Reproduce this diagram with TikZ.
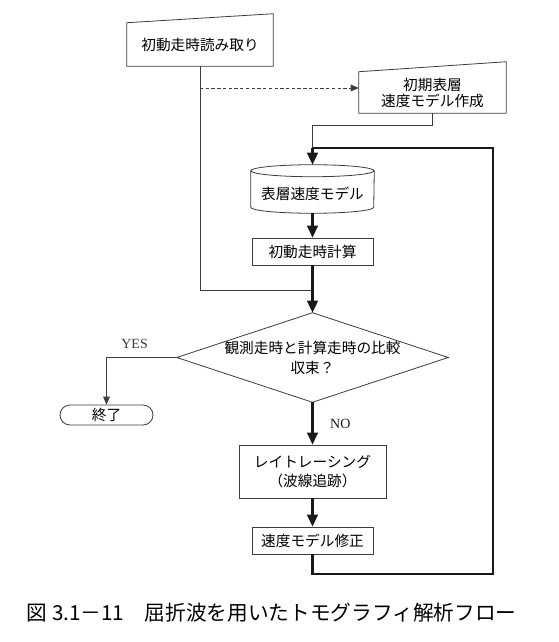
\documentclass[tikz,border=0pt]{standalone}
\usepackage{fontspec}
\setmainfont{Noto Sans CJK JP}
\newfontfamily\latinserif{Liberation Serif}
\usetikzlibrary{arrows.meta, calc}
\definecolor{mydark}{RGB}{25,25,25}
\definecolor{mygray}{RGB}{60,60,60}
\newdimen\pxu \pxu=0.75pt
\tikzset{
  procbox/.style={rectangle, draw=mygray, line width=0.6pt, inner sep=0pt,
    align=center, font=\fontsize{11}{12}\selectfont},
  shapebox/.style={rectangle, inner sep=0pt, align=center,
    font=\fontsize{11}{12}\selectfont},
  outline/.style={draw=mygray, line width=0.6pt},
  thinline/.style={color=mygray, line width=0.6pt},
  thickline/.style={color=mydark, line width=1.8pt},
  thickarrow/.style={-{Triangle[length=9pt, width=8pt]}, color=mydark, line width=1.8pt},
  thinarrow/.style={-{Triangle[length=6pt, width=5pt]}, color=mygray, line width=0.6pt},
  dasharrow/.style={thinarrow, dash pattern=on 2.5pt off 1.8pt},
  yesno/.style={font=\latinserif\fontsize{10.5}{12}\selectfont}
}
\begin{document}
\begin{tikzpicture}[x=0.75pt, y=0.75pt]
  \useasboundingbox (0,0) rectangle (559,-642);

  % Manual input: first-arrival reading
  \node[shapebox, minimum width=146\pxu, minimum height=43\pxu] (read) at (200,-44.5) {初動走時読み取り};
  \draw[outline] (read.south west) -- (read.south east) -- ($(read.north east)+(0,9)$) -- (read.north west) -- cycle;

  % Manual input: initial velocity model
  \node[shapebox, minimum width=147\pxu, minimum height=41\pxu] (init) at (432.5,-92.5) {初期表層\\速度モデル作成};
  \draw[outline] (init.south west) -- (init.south east) -- ($(init.north east)+(0,10)$) -- (init.north west) -- cycle;

  % Stored model (cylinder)
  \node[shapebox, minimum width=123\pxu, minimum height=48\pxu, text height=17pt, text depth=2pt] (model) at (312.5,-189) {表層速度モデル};
  \draw[outline] ($(model.north west)+(0,-6)$) -- ($(model.south west)+(0,6)$)
    arc[start angle=180, end angle=360, x radius=61.5, y radius=6] -- ($(model.north east)+(0,-6)$);
  \draw[outline] ($(model.north)+(0,-6)$) ellipse[x radius=61.5, y radius=6];

  % Process boxes
  \node[procbox, minimum width=121\pxu, minimum height=27\pxu] (calc) at (312.5,-251.5) {初動走時計算};
  \node[procbox, minimum width=147\pxu, minimum height=53\pxu, font=\fontsize{11}{14}\selectfont] (ray) at (312.5,-471.5) {レイトレーシング\\（波線追跡）};
  \node[procbox, minimum width=121\pxu, minimum height=27\pxu] (fix) at (312.5,-540.5) {速度モデル修正};

  % Decision
  \node[shapebox, minimum width=271\pxu, minimum height=89\pxu, font=\fontsize{11}{15}\selectfont] (judge) at (312.5,-357.5) {観測走時と計算走時の比較\\収束？};
  \draw[outline] (judge.north) -- (judge.east) -- (judge.south) -- (judge.west) -- cycle;

  % Terminal
  \node[procbox, minimum width=93\pxu, minimum height=20\pxu, rounded corners=7.5pt] (end) at (106.5,-415) {終了};

  % Junction points
  \coordinate (join) at (312.5,-290);
  \coordinate (merge) at (312.5,-148);
  \coordinate (loop) at (493,-574);
  \coordinate (dashstart) at (200,-88);

  % Connectors
  \draw[thinline] (read.south) |- (join);
  \draw[dasharrow] (dashstart) -- (dashstart -| init.west);
  \draw[thinline] (init.south) -- ++(0,-12) -| (merge);
  \draw[thickarrow] (merge) -- (model.north);
  \draw[thickarrow] (model.south) -- (calc.north);
  \draw[thickarrow] (calc.south) -- (judge.north);
  \draw[thinarrow] (judge.west) -| node[pos=0.3, above=3pt, yesno] {YES} (end.north);
  \draw[thickarrow] (judge.south) -- node[right=9pt, yesno] {NO} (ray.north);
  \draw[thickarrow] (ray.south) -- (fix.north);
  \draw[thickline] (fix.south) |- (loop) |- (merge);

  % Caption
  \node[anchor=west, font=\fontsize{15.5}{18}\selectfont] (caption) at (22,-613) {図 3.1－11　屈折波を用いたトモグラフィ解析フロー};
\end{tikzpicture}
\end{document}
